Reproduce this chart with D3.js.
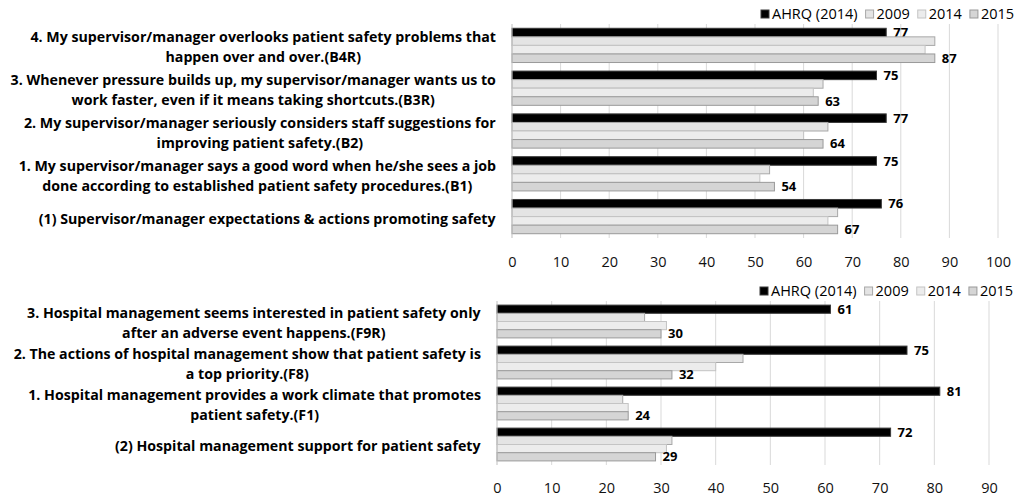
<!DOCTYPE html>
<html>
<head>
<meta charset="utf-8">
<script src="https://cdn.jsdelivr.net/npm/d3@7"></script>
<style>
  body { margin: 0; background: #fff; }
  svg { display: block; }
  text { font-family: "Open Sans", "Noto Sans", sans-serif; }
</style>
</head>
<body>
<svg id="chart" width="1022" height="497"></svg>
<script>
// Series shown in both panels
const seriesNames = ["AHRQ (2014)", "2009", "2014", "2015"];

// Panel 1: Supervisor/manager expectations & actions promoting safety
const supervisorItems = [
  ["4. My supervisor/manager overlooks patient safety problems that", "happen over and over.(B4R)"],
  ["3. Whenever pressure builds up, my supervisor/manager wants us to", "work faster, even if it means taking shortcuts.(B3R)"],
  ["2. My supervisor/manager seriously considers staff suggestions for", "improving patient safety.(B2)"],
  ["1. My supervisor/manager says a good word when he/she sees a job", "done according to established patient safety procedures.(B1)"],
  ["(1) Supervisor/manager expectations & actions promoting safety"]
];
const supervisorAHRQ = [77, 75, 77, 75, 76];
const supervisor2009 = [87, 64, 65, 53, 67];
const supervisor2014 = [85, 62, 60, 51, 65];
const supervisor2015 = [87, 63, 64, 54, 67];
const supervisorTicks = [0, 10, 20, 30, 40, 50, 60, 70, 80, 90, 100];

// Panel 2: Hospital management support for patient safety
const managementItems = [
  ["3. Hospital management seems interested in patient safety only", "after an adverse event happens.(F9R)"],
  ["2. The actions of hospital management show that patient safety is", "a top priority.(F8)"],
  ["1. Hospital management provides a work climate that promotes", "patient safety.(F1)"],
  ["(2) Hospital management support for patient safety"]
];
const managementAHRQ = [61, 75, 81, 72];
const management2009 = [27, 45, 23, 32];
const management2014 = [31, 40, 24, 31];
const management2015 = [30, 32, 24, 29];
const managementTicks = [0, 10, 20, 30, 40, 50, 60, 70, 80, 90];

const fills = { "AHRQ (2014)": "#000000", "2009": "#e4e4e4", "2014": "#ececec", "2015": "#d5d5d5" };
const strokes = { "AHRQ (2014)": "#3a3a3a", "2009": "#a8a8a8", "2014": "#c4c4c4", "2015": "#999999" };
const labelled = new Set(["AHRQ (2014)", "2015"]);

const svg = d3.select("#chart");

function drawPanel(cfg) {
  const x = d3.scaleLinear().domain([0, cfg.max]).range([cfg.x0, cfg.x1]);
  const idx = cfg.items.map((d, i) => i);
  const y = d3.scaleBand().domain(idx).range([cfg.y0, cfg.y1]).paddingInner(0.2).paddingOuter(0.1);
  const ys = d3.scaleBand().domain(seriesNames).range([0, y.bandwidth()]);
  const g = svg.append("g");

  // vertical gridlines
  g.append("g").selectAll("line").data(cfg.ticks.filter(t => t > 0)).join("line")
    .attr("x1", d => x(d)).attr("x2", d => x(d))
    .attr("y1", cfg.y0).attr("y2", cfg.y1)
    .attr("stroke", "#d9d9d9").attr("stroke-width", 1);

  // tick labels along the bottom
  const axis = d3.axisBottom(x).tickValues(cfg.ticks).tickSize(0).tickPadding(0).tickFormat(d3.format("d"));
  const ag = g.append("g").attr("transform", `translate(0,${cfg.tickY})`).call(axis);
  ag.select(".domain").remove();
  ag.selectAll("text").attr("font-size", 14.5).attr("fill", "#111")
    .attr("font-family", "'Open Sans', sans-serif").attr("dy", "0.35em").attr("y", 0);

  // bars
  cfg.items.forEach((item, i) => {
    seriesNames.forEach(s => {
      const v = cfg.values[s][i];
      g.append("rect")
        .attr("x", x(0)).attr("y", y(i) + ys(s))
        .attr("width", x(v) - x(0)).attr("height", ys.bandwidth())
        .attr("fill", fills[s]).attr("stroke", strokes[s]).attr("stroke-width", 1);
      if (labelled.has(s)) {
        g.append("text")
          .attr("x", x(v) + 7).attr("y", y(i) + ys(s) + ys.bandwidth() / 2)
          .attr("dy", "0.35em").attr("font-size", 13).attr("font-weight", "bold")
          .attr("fill", "#000").text(v);
      }
    });
    // category label, centred lines in a right-aligned block
    const lines = item;
    const t = g.append("text").attr("font-size", 14.2).attr("font-weight", "bold").attr("fill", "#000")
      .attr("text-anchor", "middle");
    const cy = y(i) + y.bandwidth() / 2 + 2;
    const lh = 20;
    lines.forEach((ln, k) => {
      t.append("tspan").attr("x", 0).attr("y", cy + (k - (lines.length - 1) / 2) * lh).attr("dy", "0.35em").text(ln);
    });
    const bb = t.node().getBBox();
    t.attr("transform", `translate(${cfg.labelRight - bb.width / 2},0)`);
  });

  // zero baseline
  g.append("line").attr("x1", x(0)).attr("x2", x(0)).attr("y1", cfg.y0).attr("y2", cfg.y1)
    .attr("stroke", "#bfbfbf").attr("stroke-width", 1);

  // legend
  const lg = g.append("g").attr("transform", `translate(${cfg.legendX},${cfg.legendY})`);
  let lx = 0;
  seriesNames.forEach(s => {
    lg.append("rect").attr("x", lx).attr("y", -4).attr("width", 8).attr("height", 8)
      .attr("fill", fills[s]).attr("stroke", strokes[s]);
    const tx = lg.append("text").attr("x", lx + 11).attr("y", 0).attr("dy", "0.35em")
      .attr("font-size", 14.5).attr("fill", "#000").text(s);
    lx += 11 + tx.node().getComputedTextLength() + 8;
  });
}

drawPanel({
  items: supervisorItems,
  values: { "AHRQ (2014)": supervisorAHRQ, "2009": supervisor2009, "2014": supervisor2014, "2015": supervisor2015 },
  max: 100, ticks: supervisorTicks,
  x0: 512, x1: 998, y0: 24, y1: 238, tickY: 262,
  labelRight: 496, legendX: 761, legendY: 14
});

drawPanel({
  items: managementItems,
  values: { "AHRQ (2014)": managementAHRQ, "2009": management2009, "2014": management2014, "2015": management2015 },
  max: 90, ticks: managementTicks,
  x0: 497, x1: 989, y0: 301, y1: 465, tickY: 488,
  labelRight: 481, legendX: 760, legendY: 291
});
</script>
</body>
</html>
